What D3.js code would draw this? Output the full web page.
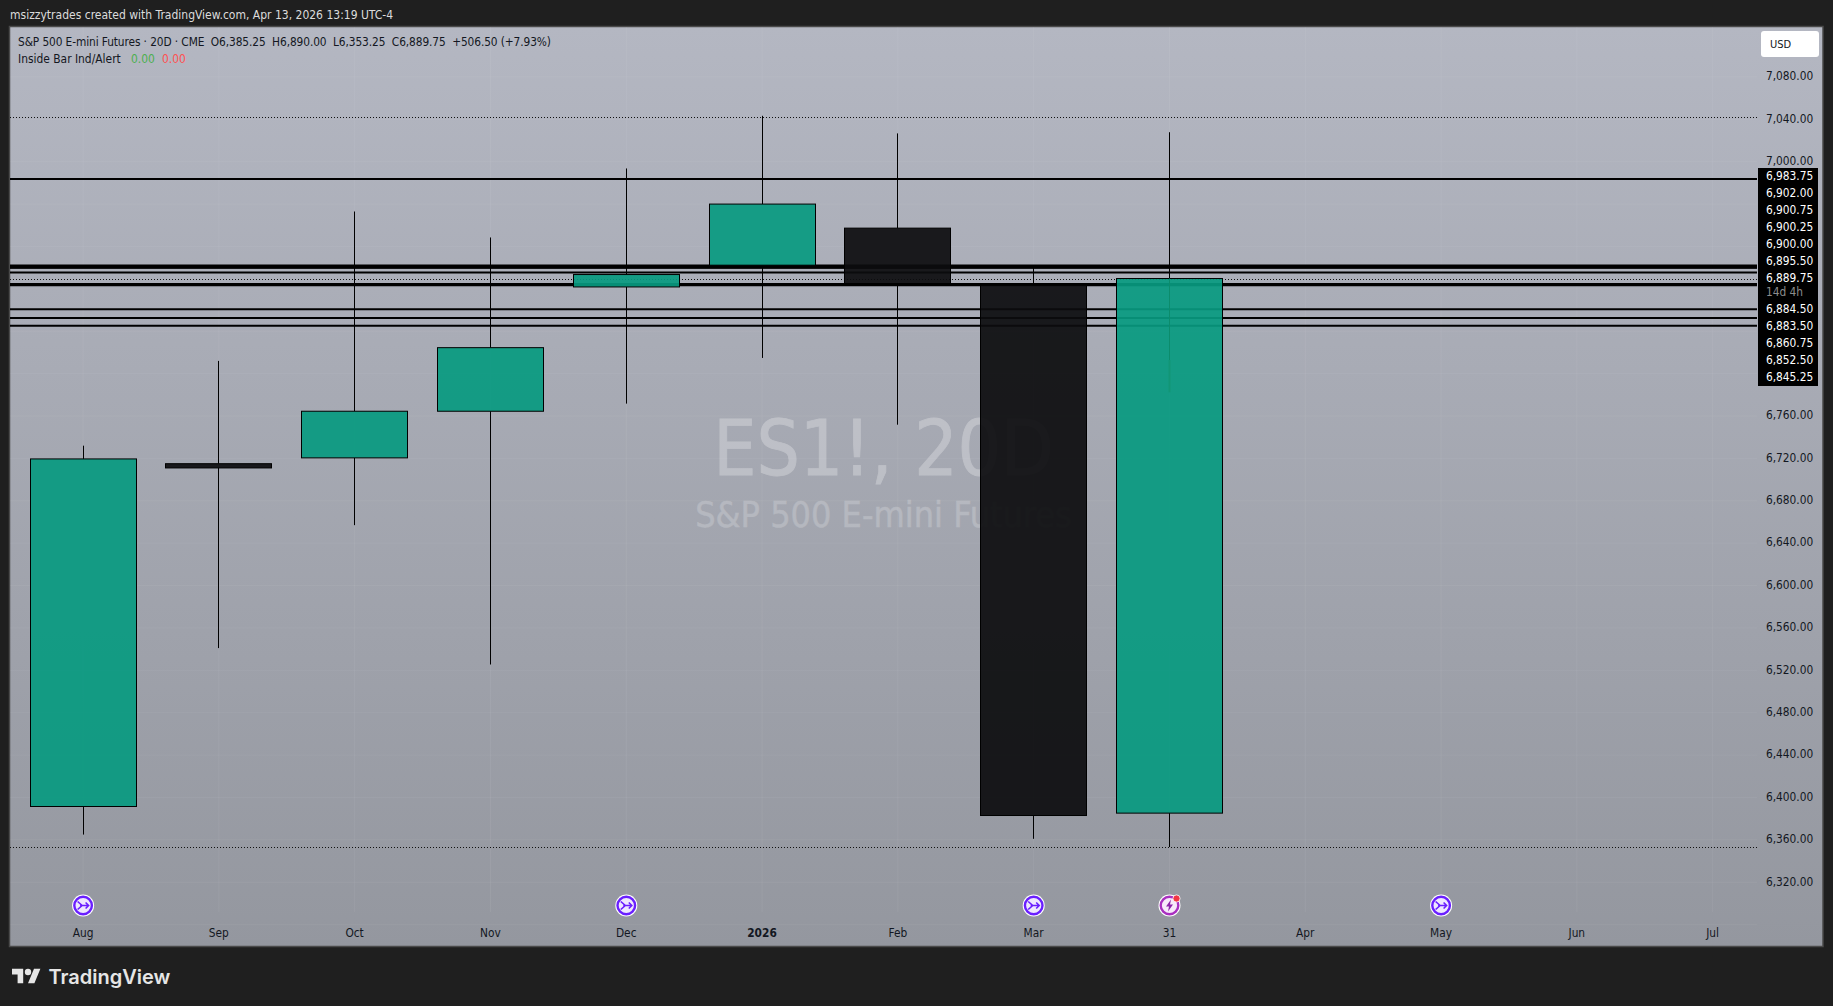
<!DOCTYPE html>
<html><head><meta charset="utf-8">
<script src="https://cdn.jsdelivr.net/npm/d3@7"></script>
<style>
html,body{margin:0;padding:0;background:#1f1f1f;overflow:hidden}
text{font-family:"DejaVu Sans Condensed","DejaVu Sans",sans-serif;font-stretch:condensed}
.axis path,.axis line{display:none}
</style></head><body>
<svg id="c" width="1833" height="1006"></svg>
<script>
const timeLabels = ["Aug","Sep","Oct","Nov","Dec","2026","Feb","Mar","31","Apr","May","Jun","Jul"];
const candleLabels = ["Aug","Sep","Oct","Nov","Dec","2026","Feb","Mar","31"];
const opens  = [6391.5,6715,6720.5,6764.5,6881.8,6902.3,6937.3,6883.4,6385.25];
const highs  = [6732,6812,6953,6928.5,6993.6,7043.3,7026.7,6902,7027.8];
const lows   = [6365,6541,6657,6525.5,6771.7,6814.8,6751.8,6361,6353.25];
const closes = [6719.5,6711,6764.5,6824.5,6893.5,6960,6885,6383,6889.75];
const priceTicks = [7080,7040,7000,6760,6720,6680,6640,6600,6560,6520,6480,6440,6400,6360,6320];
const gridTicks = [7080,7040,7000,6960,6920,6880,6840,6800,6760,6720,6680,6640,6600,6560,6520,6480,6440,6400,6360,6320,6280];
const solidLevels = [6983.75,6902,6900.75,6900.25,6900,6895.5,6884.5,6883.5,6860.75,6852.5,6845.25];
const dottedLevels = [7042.4,6889.75,6353.25];
const upperLabels = ["6,983.75","6,902.00","6,900.75","6,900.25","6,900.00","6,895.50","6,889.75"];
const countdownLabel = "14d 4h";
const lowerLabels = ["6,884.50","6,883.50","6,860.75","6,852.50","6,845.25"];
const splitMarks = ["Aug","Dec","Mar","May"];
const earningsMarks = ["31"];
const titleText = "msizzytrades created with TradingView.com, Apr 13, 2026 13:19 UTC-4";
const headerText = "S&P 500 E-mini Futures · 20D · CME  O6,385.25  H6,890.00  L6,353.25  C6,889.75  +506.50 (+7.93%)";
const indicatorName = "Inside Bar Ind/Alert";
const indicatorValues = ["0.00","0.00"];
const watermarkMain = "ES1!, 20D";
const watermarkSub = "S&P 500 E-mini Futures";
const lastWickDark = 6812.6;
const lastWickFade = 6782.4;

const pane = {l:10,t:27,r:1822.5,b:946};
const linesRight = 1757;
const svg = d3.select("#c");
const defs = svg.append("defs");
const grad = defs.append("linearGradient").attr("id","bg").attr("x1",0).attr("x2",0).attr("y1",0).attr("y2",1);
grad.append("stop").attr("offset",0).attr("stop-color","#b4b7c2");
grad.append("stop").attr("offset",1).attr("stop-color","#94979f");
defs.append("clipPath").attr("id","pc").append("rect").attr("x",pane.l).attr("y",pane.t).attr("width",pane.r-pane.l).attr("height",pane.b-pane.t);

const y = d3.scaleLinear().domain([7127.1,6259.2]).range([pane.t,946.7]);
const x = d3.scalePoint().domain(timeLabels).range([83.1,1712.7]);
const bodyW = 106;
const px = v => Math.floor(v)+.5;

svg.append("rect").attr("x",pane.l-.5).attr("y",pane.t-.5).attr("width",pane.r-pane.l+1).attr("height",pane.b-pane.t+1)
  .attr("fill","url(#bg)").attr("stroke","#4a4a4a").attr("stroke-width",1.5);
svg.append("text").attr("x",10).attr("y",15).attr("dy","0.35em").attr("fill","#dcdcdc").attr("font-size",12).text(titleText);

const g = svg.append("g").attr("clip-path","url(#pc)");
// grid
g.append("g").selectAll("line").data(timeLabels).join("line")
  .attr("x1",d=>x(d)).attr("x2",d=>x(d)).attr("y1",pane.t).attr("y2",pane.b-34)
  .attr("stroke","#fff").attr("stroke-opacity",.06);
g.append("g").selectAll("line").data(gridTicks).join("line")
  .attr("x1",pane.l).attr("x2",linesRight).attr("y1",d=>y(d)).attr("y2",d=>y(d))
  .attr("stroke","#fff").attr("stroke-opacity",.05);

// watermark
g.append("text").attr("x",883.5).attr("y",475).attr("text-anchor","middle").attr("font-size",76)
  .attr("fill","#fff").attr("stroke","#fff").attr("stroke-width",.8).attr("opacity",.27).text(watermarkMain);
g.append("text").attr("x",883.5).attr("y",527).attr("text-anchor","middle").attr("font-size",35.7)
  .attr("fill","#fff").attr("stroke","#fff").attr("stroke-width",.4).attr("opacity",.2).text(watermarkSub);

// levels
g.append("g").selectAll("line").data(solidLevels).join("line")
  .attr("x1",pane.l).attr("x2",linesRight).attr("y1",d=>y(d)).attr("y2",d=>y(d))
  .attr("stroke","#000").attr("stroke-width",2);
g.append("g").selectAll("line").data(dottedLevels).join("line")
  .attr("x1",pane.l).attr("x2",linesRight).attr("y1",d=>Math.round(y(d))+.5).attr("y2",d=>Math.round(y(d))+.5)
  .attr("stroke","#111").attr("stroke-width",1).attr("stroke-dasharray","1 2");

// candles
const candles = candleLabels.map((k,i)=>({k,o:opens[i],h:highs[i],l:lows[i],c:closes[i]}));
const cg = g.append("g");
cg.selectAll("line.u").data(candles).join("line").attr("class","u")
  .attr("x1",d=>px(x(d.k))).attr("x2",d=>px(x(d.k)))
  .attr("y1",d=>y(d.h)).attr("y2",d=>y(Math.max(d.o,d.c))).attr("stroke","#000");
cg.selectAll("line.d").data(candles).join("line").attr("class","d")
  .attr("x1",d=>px(x(d.k))).attr("x2",d=>px(x(d.k)))
  .attr("y1",d=>y(Math.min(d.o,d.c))).attr("y2",d=>y(d.l)).attr("stroke","#000");
cg.selectAll("rect").data(candles).join("rect")
  .attr("x",d=>px(x(d.k))-bodyW/2).attr("width",bodyW)
  .attr("y",d=>y(Math.max(d.o,d.c))).attr("height",d=>Math.abs(y(d.o)-y(d.c)))
  .attr("fill",d=>d.c>=d.o?"#089a80":"#0c0c0e").attr("fill-opacity",.92)
  .attr("stroke","#000").attr("stroke-width",1);
// faint wick seen through the last body
const last = candles[candles.length-1];
g.append("line").attr("x1",px(x(last.k))).attr("x2",px(x(last.k)))
  .attr("y1",y(last.c)).attr("y2",y(lastWickDark)).attr("stroke","#0c8c6c").attr("stroke-width",1);
g.append("line").attr("x1",px(x(last.k))).attr("x2",px(x(last.k)))
  .attr("y1",y(lastWickDark)).attr("y2",y(lastWickFade)).attr("stroke","#129676").attr("stroke-width",2);

// markers
const mg = g.append("g");
const splits = mg.selectAll("g.s").data(splitMarks).join("g").attr("class","s")
  .attr("transform",d=>`translate(${x(d)},905.5)`);
splits.append("circle").attr("r",11).attr("fill","#fff");
splits.append("circle").attr("r",8.8).attr("fill","#efe8ff").attr("stroke","#6a1fff").attr("stroke-width",2.4);
splits.append("path").attr("d","M-5.5,-4 L-1,0 L-5.5,4 M-3,0 L5.5,0 M2.5,-3 L5.5,0 L2.5,3")
  .attr("fill","none").attr("stroke","#6a1fff").attr("stroke-width",1.6);
const earns = mg.selectAll("g.e").data(earningsMarks).join("g").attr("class","e")
  .attr("transform",d=>`translate(${x(d)},905.5)`);
earns.append("circle").attr("r",11).attr("fill","#fff");
earns.append("circle").attr("r",8.8).attr("fill","#f7e9fa").attr("stroke","#a92fc0").attr("stroke-width",2.4);
earns.append("path").attr("d","M1.5,-6 L-3.5,1 L-0.5,1 L-1.5,6 L3.5,-1 L0.5,-1 Z").attr("fill","#8e24aa");
earns.append("circle").attr("cx",7).attr("cy",-7).attr("r",3.6).attr("fill","#f23645").attr("stroke","#fff").attr("stroke-width",.8);

// x axis
const xAxis = d3.axisBottom(x).tickSize(0).tickPadding(0);
const xg = svg.append("g").attr("class","axis").attr("transform","translate(-0.6,929)").call(xAxis);
xg.selectAll("text").attr("fill","#131722").attr("font-size",11.8).attr("dy","0.71em")
  .attr("font-weight",d=>d==="2026"?"700":"400");

// y axis
const yAxis = d3.axisRight(y).tickValues(priceTicks).tickSize(0).tickPadding(0).tickFormat(d3.format(",.2f"));
const yg = svg.append("g").attr("class","axis").attr("transform","translate(1766,-1)").call(yAxis);
yg.selectAll("text").attr("fill","#131722").attr("font-size",11.8);

// label stack
svg.append("rect").attr("x",1758).attr("y",168).attr("width",60).attr("height",218).attr("fill","#000");
const anchorY = y(6889.75)-1, step = 17;
const stackTop = upperLabels.map((t,i)=>({t,yy:anchorY-(upperLabels.length-1-i)*step}));
const stackLow = lowerLabels.map((t,i)=>({t,yy:anchorY+30.9+i*step}));
svg.append("g").selectAll("text").data(stackTop.concat(stackLow)).join("text")
  .attr("x",1766).attr("y",d=>d.yy).attr("dy","0.35em").attr("fill","#fff").attr("font-size",11.8).text(d=>d.t);
svg.append("text").attr("x",1766).attr("y",anchorY+14.5).attr("dy","0.35em").attr("fill","#8c8c8c").attr("font-size",11.8).text(countdownLabel);

// currency button
svg.append("rect").attr("x",1761).attr("y",31).attr("width",58).attr("height",26).attr("rx",3).attr("fill","#fff");
svg.append("text").attr("x",1770).attr("y",44.3).attr("dy","0.35em").attr("font-size",11).attr("fill","#131722").text("USD");

// legend
svg.append("text").attr("x",18).attr("y",42).attr("dy","0.35em").attr("font-size",11.8).attr("fill","#131722").attr("textLength",533).attr("lengthAdjust","spacing").style("white-space","pre").text(headerText);
svg.append("text").attr("x",18).attr("y",59).attr("dy","0.35em").attr("font-size",11.9).attr("fill","#131722").text(indicatorName);
const indColors = ["#4caf50","#ff5252"];
svg.append("g").selectAll("text").data(indicatorValues).join("text")
  .attr("x",(d,i)=>131+i*31).attr("y",59).attr("dy","0.35em").attr("font-size",11.9).attr("fill",(d,i)=>indColors[i]).text(d=>d);

// logo
const logo = svg.append("g").attr("transform","translate(12,965.6) scale(0.8)").attr("fill","#e6e6e6");
logo.append("path").attr("d","M14 22H7V11H0V4h14v18zM28 22h-8l7.5-18h8L28 22z");
logo.append("circle").attr("cx",20).attr("cy",8).attr("r",4);
svg.append("text").attr("x",48.5).attr("y",983.5).attr("font-size",20).attr("font-weight",600).attr("fill","#e6e6e6").style("font-family","Inter").style("font-stretch","normal").text("TradingView");
</script>
</body></html>
